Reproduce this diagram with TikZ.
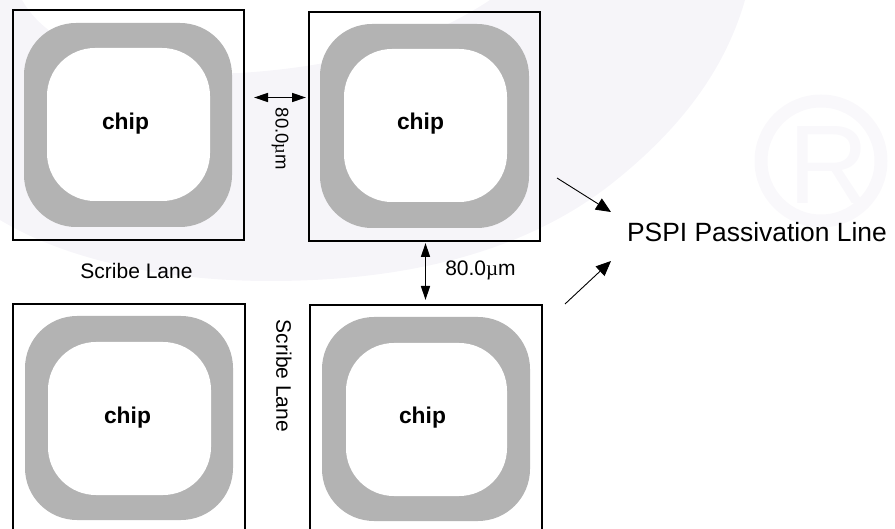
\documentclass[tikz,border=0pt]{standalone}
\usepackage{fontspec}
\setmainfont{Liberation Sans}
\newfontfamily\muserif{Liberation Serif}
\definecolor{wmark}{HTML}{F6F5F9}
\definecolor{wmarkR}{HTML}{F9F8FB}
\definecolor{ringgray}{HTML}{B3B3B3}
\usetikzlibrary{arrows.meta}
\tikzset{
  frame/.style={draw=black,line width=1.7pt,fill=none,rectangle,inner sep=0pt},
  ringouter/.style={fill=ringgray,draw=none},
  ringinner/.style={fill=white,draw=none},
  chiplabel/.style={font=\fontsize{22.8}{24}\selectfont\bfseries,inner sep=0pt},
  dimlabel/.style={font=\fontsize{21}{24}\selectfont,inner sep=0pt},
  dimarrow/.style={line width=1.4pt,{Triangle[length=14pt,width=9pt]}-{Triangle[length=14pt,width=9pt]}},
  pointer/.style={line width=0.9pt,-{Triangle[length=15pt,width=13pt]}},
}
\begin{document}
\begin{tikzpicture}[x=1pt,y=-1pt]
\useasboundingbox (0,0) rectangle (895,529);
\clip (0,0) rectangle (895,529);
% watermark
\fill[wmark] (0,220) .. controls (70,262) and (170,281) .. (270,281)
  .. controls (400,281) and (520,255) .. (610,185)
  .. controls (680,130) and (725,70) .. (745,0)
  -- (490,0) .. controls (430,40) and (350,66) .. (240,73)
  .. controls (130,76) and (50,50) .. (22,0) -- (0,0) -- cycle;
\draw[wmarkR,line width=13pt] (821,161) circle (60);
\node[font=\fontsize{112}{114}\selectfont,text=wmarkR,inner sep=0pt] (wm) at (829,165) {R};
% rings
\newcommand{\chipring}[9]{%
  \fill[ringouter,rounded corners=52pt] (#2,#4) rectangle (#3,#5);
  \fill[ringinner,rounded corners=48pt] (#6,#8) rectangle (#7,#9);
}
\chipring{a}{24}{232}{23}{227}{47}{210}{48}{201}
\chipring{b}{320}{529}{24}{228}{344}{507}{49}{202}
\chipring{c}{25}{233}{316}{520}{48}{211}{342}{495}
\chipring{d}{322}{530}{317}{521}{346}{507}{343}{496}
% frames
\node[frame,minimum width=231pt,minimum height=230pt] (A) at (128.5,125) {};
\node[frame,minimum width=231pt,minimum height=229pt] (B) at (424.5,126.5) {};
\node[frame,minimum width=232pt,minimum height=236pt] (C) at (129,422) {};
\node[frame,minimum width=232pt,minimum height=235pt] (D) at (426,422.5) {};
% chip labels
\node[chiplabel] (ca) at (125.5,123.5) {chip};
\node[chiplabel] (cb) at (420.5,123.5) {chip};
\node[chiplabel] (cc) at (127.5,417.5) {chip};
\node[chiplabel] (cd) at (422.5,418) {chip};
% labels
\node[dimlabel] (sl1) at (136.5,271) {Scribe Lane};
\node[dimlabel,rotate=-90] (sl2) at (284,376) {Scribe Lane};
\node[font=\fontsize{18.5}{20}\selectfont,inner sep=0pt,rotate=-90] (dim1) at (280,139) {80.0{\muserif µ}m};
\node[dimlabel] (dim2) at (480.5,270) {80.0{\muserif µ}m};
\node[font=\fontsize{26.4}{28}\selectfont,inner sep=0pt] (pspi) at (757,232) {PSPI Passivation Line};
% connectors
\coordinate (h1) at (254,97.5);
\coordinate (h2) at (306,97.5);
\coordinate (v1) at (425.5,243);
\coordinate (v2) at (425.5,300);
\draw[dimarrow] (h1) -- (h2);
\draw[dimarrow] (v1) -- (v2);
\coordinate (p1s) at (557,178);
\coordinate (p1e) at (611,212);
\coordinate (p2s) at (565,304);
\coordinate (p2e) at (611,261);
\draw[pointer] (p1s) -- (p1e);
\draw[pointer] (p2s) -- (p2e);
\end{tikzpicture}
\end{document}
